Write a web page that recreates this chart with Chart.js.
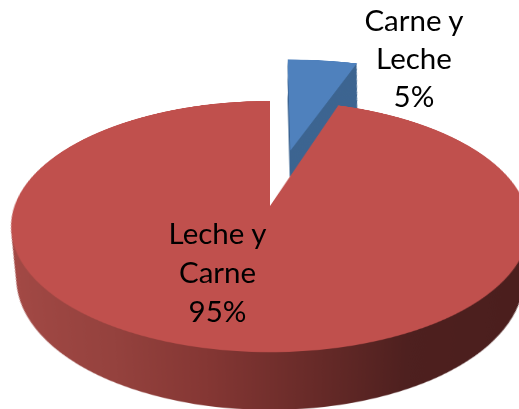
<!DOCTYPE html>
<html><head><meta charset="utf-8">
<style>
html,body{margin:0;padding:0;background:#fff;width:519px;height:409px;overflow:hidden}
#stage{position:absolute;left:0;top:0;width:519px;height:409px;overflow:hidden}
#c{position:absolute;left:-80px;top:-244px;width:700px;height:900px;transform-origin:350px 450px;
   transform:perspective(1376px) rotateX(61.4deg)}
.lab{position:absolute;width:160px;text-align:center;font:29.5px/39px Lato,"Open Sans",sans-serif;color:#000;white-space:pre-line}
</style>
<script src="https://cdn.jsdelivr.net/npm/chart.js@4/dist/chart.umd.min.js"></script>
</head><body>
<div id="stage"><canvas id="c" width="700" height="900"></canvas></div>
<script>
const categories = ['Carne y\nLeche', 'Leche y\nCarne'];
const values = [5, 95];
const topColors = ['#4f81bd', '#c0504d'];
const blueWall = '#3d6591';
const labelBoxes = [[334, 0.5, 38.3], [137.5, 213, 39]];

const R = 255.5, THETA = 61.4 * Math.PI / 180, D = 1376, H = 60;
const s = Math.sin(THETA), c = Math.cos(THETA);
const cx = 350, cy = 450;

function placeBlue(ctx) {
  ctx.translate(cx + 22, cy - 125);
  ctx.scale(1.08, 1);
  ctx.translate(-cx, -cy);
}

const extrude = {
  id: 'extrude',
  beforeDatasetsDraw(chart) {
    const ctx = chart.ctx;
    const arcs = chart.getDatasetMeta(0).data;
    const g = ctx.createLinearGradient(80, 0, 620, 0);
    g.addColorStop(0.00, '#a64b47');
    g.addColorStop(0.25, '#95423e');
    g.addColorStop(0.40, '#853734');
    g.addColorStop(0.58, '#662a28');
    g.addColorStop(0.72, '#4e201f');
    g.addColorStop(1.00, '#4a1e1d');
    const walls = [blueWall, g];
    for (const i of [0, 1]) {
      const arc = arcs[i], base = arc.options;
      arc.options = Object.assign(Object.create(base), {backgroundColor: walls[i]});
      for (let h = H; h > 0; h -= 1) {
        const p = D / (D + h / c);
        const px = i === 0 ? 1 / (1 + h * 0.0011) : p;
        ctx.save();
        ctx.translate(cx, cy);
        ctx.scale(px, p);
        ctx.translate(-cx, -cy + h * s / c);
        if (i === 0) placeBlue(ctx);
        arc.draw(ctx);
        ctx.restore();
      }
      arc.options = base;
      ctx.save();
      if (i === 0) placeBlue(ctx);
      arc.draw(ctx);
      ctx.restore();
    }
    return false;
  }
};

new Chart(document.getElementById('c'), {
  type: 'pie',
  data: {
    labels: categories,
    datasets: [{
      data: values,
      backgroundColor: topColors,
      borderWidth: 0
    }]
  },
  options: {
    responsive: false,
    devicePixelRatio: 2,
    animation: false,
    radius: R,
    layout: {padding: 0},
    plugins: {legend: {display: false}, tooltip: {enabled: false}}
  },
  plugins: [extrude]
});
document.getElementById('c').style.width = '700px';
document.getElementById('c').style.height = '900px';

categories.forEach((name, i) => {
  const d = document.createElement('div');
  d.className = 'lab';
  d.style.left = labelBoxes[i][0] + 'px';
  d.style.top = labelBoxes[i][1] + 'px';
  d.style.lineHeight = labelBoxes[i][2] + 'px';
  d.textContent = name + '\n' + values[i] + '%';
  document.getElementById('stage').appendChild(d);
});
</script>
</body></html>
